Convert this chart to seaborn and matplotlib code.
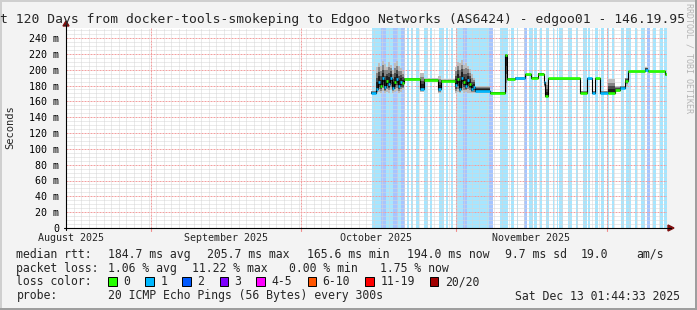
import matplotlib
matplotlib.use("Agg")
import matplotlib.pyplot as plt
import numpy as np
import pandas as pd
import seaborn as sns
from matplotlib.patches import Rectangle, Polygon
from matplotlib.lines import Line2D

# ---------------- data (x in days since 2025-08-01 00:00) ----------------
title = "t 120 Days from docker-tools-smokeping to Edgoo Networks (AS6424) - edgoo01 - 146.19.95"
x_start, x_end = 14.07, 134.07
month_label_days = [15, 46, 76, 107]
month_labels = ["August 2025", "September 2025", "October 2025", "November 2025"]
month_start_days = [31, 61, 92, 122]
y_ticks = [0, 20, 40, 60, 80, 100, 120, 140, 160, 180, 200, 220, 240]
y_tick_labels = ["0", "20 m", "40 m", "60 m", "80 m", "100 m", "120 m", "140 m",
                 "160 m", "180 m", "200 m", "220 m", "240 m"]

med_day = [74.97, 75.97, 76.37, 76.77, 77.17, 77.57, 77.97, 78.37, 78.77, 79.17, 79.57,
           79.97, 80.36, 80.76, 81.16, 81.56, 84.76, 85.56, 88.35, 88.95,
           91.75, 92.15, 92.55, 92.95, 93.35, 93.74, 94.14, 94.54, 94.94, 95.34,
           95.74, 98.73, 101.73, 102.13, 103.73, 105.72, 106.92, 108.32, 109.52, 109.72,
           110.32, 116.71, 118.10, 119.10, 119.70, 120.70, 122.30, 123.69, 124.69, 125.69,
           126.29, 129.68, 130.28, 133.68]
med_rtt = [171, 176, 185, 180, 189, 178, 186, 182, 190, 177, 184,
           188, 179, 185, 183, 188, 176, 187, 176, 186,
           181, 188, 176, 190, 184, 179, 187, 182, 175, 178,
           173, 171, 218, 188, 189, 194, 190, 195, 184, 167,
           189, 171, 189, 171, 189, 171, 171, 174, 177, 186,
           198, 200, 198, 194]
med_loss = [1, 1, 1, 0, 1, 1, 0, 1, 1, 1, 0,
            1, 1, 1, 0, 0, 1, 0, 1, 0,
            1, 0, 1, 1, 0, 1, 1, 0, 1, 1,
            1, 0, 0, 0, 1, 0, 0, 0, 1, 0,
            0, 0, 1, 1, 0, 1, 0, 0, 1, 0,
            0, 1, 0, 0]
smoke_hi = [173, 203, 209, 205, 211, 207, 204, 210, 206, 200, 208,
            211, 205, 202, 198, 190, 196, 189, 192, 188,
            204, 210, 208, 212, 206, 209, 205, 201, 195, 190,
            180, 172, 220, 190, 191, 195, 191, 196, 192, 185,
            190, 173, 190, 173, 190, 173, 188, 180, 180, 190,
            199, 203, 199, 196]
smoke_lo = [170, 171, 172, 171, 173, 171, 172, 171, 174, 171, 172,
            173, 171, 172, 174, 186, 172, 185, 171, 184,
            171, 172, 171, 173, 171, 172, 171, 171, 170, 170,
            171, 170, 172, 186, 187, 192, 188, 193, 178, 165,
            187, 170, 187, 170, 187, 170, 170, 172, 175, 180,
            196, 198, 196, 192]

loss_start = [75.07, 76.87, 77.87, 79.27, 80.27, 80.87, 82.07, 82.87, 83.87, 85.47, 86.67,
              88.47, 89.87, 90.87, 91.87, 93.27, 94.07, 98.47, 100.67, 102.87, 104.07, 105.47,
              106.47, 107.47, 108.67, 109.87, 111.27, 112.07, 112.47, 114.27, 115.87, 117.27,
              118.27, 119.67, 120.87, 122.07, 123.07, 124.87, 125.87, 127.67, 128.87, 130.07,
              131.27, 132.67, 133.47]
loss_end = [76.87, 77.87, 79.27, 80.27, 80.87, 81.67, 82.47, 83.27, 84.47, 86.27, 87.07,
            89.47, 90.27, 91.27, 93.27, 94.07, 98.47, 99.27, 102.27, 103.47, 104.27, 106.07,
            107.27, 108.07, 109.07, 110.47, 111.47, 112.27, 113.27, 115.07, 116.27, 118.07,
            118.67, 120.27, 121.47, 122.47, 123.47, 125.47, 126.87, 128.07, 129.67, 130.67,
            131.87, 133.27, 134.07]
loss_level = [1, 2, 1, 2, 1, 2, 1, 1, 1, 1, 1,
              1, 1, 1, 1, 2, 1, 2, 1, 1, 1, 2,
              1, 1, 1, 1, 1, 1, 1, 1, 1, 1,
              1, 1, 1, 1, 1, 1, 1, 1, 1, 2,
              1, 1, 1]

loss_colors = ["#26ff00", "#00b8ff", "#0059ff", "#7e00ff", "#ff00ff", "#ff5500", "#ff0000", "#a10000"]
loss_legend = ["0", "1", "2", "3", "4-5", "6-10", "11-19", "20/20"]

stats_rtt = ["184.7 ms avg", "205.7 ms max", "165.6 ms min", "194.0 ms now", "9.7 ms sd", "19.0", "am/s"]
stats_loss = ["1.06 % avg", "11.22 % max", "0.00 % min", "1.75 % now"]
probe_text = "20 ICMP Echo Pings (56 Bytes) every 300s"
stamp = "Sat Dec 13 01:44:33 2025"

# ---------------- layout ----------------
sns.set_style("white")
plt.rcParams["font.family"] = ["DejaVu Sans Mono"]
W, H = 697, 310
def fx(px): return px / W
def fy(py): return 1 - py / H

fig = plt.figure(figsize=(W / 100, H / 100), dpi=100, facecolor="#f3f3f3")
AX_L, AX_R, AX_T, AX_B = 66, 667, 28, 228
ax = fig.add_axes([fx(AX_L), fy(AX_B), (AX_R - AX_L) / W, (AX_B - AX_T) / H])
ax.set_facecolor("white")
ax.set_xlim(x_start, x_end)
ax.set_ylim(0, (AX_B - AX_T) / (190 / 240))
for s in ax.spines.values():
    s.set_visible(False)

# loss background stripes
for a, b, lv in zip(loss_start, loss_end, loss_level):
    ax.axvspan(a, b, color=loss_colors[lv], alpha=0.35, lw=0, zorder=1)

# grid
ymax = ax.get_ylim()[1]
for v in np.arange(5, ymax, 5):
    if v % 20 == 0:
        ax.axhline(v, color="#f2a0a0", lw=0.72, ls=(0, (2, 1)), zorder=2.5)
    else:
        ax.axhline(v, color="#d6d6d6", lw=0.72, ls=(0, (1, 1)), zorder=2.5)
d = x_start + 1.5
while d < x_end:
    ax.axvline(d, color="#d6d6d6", lw=0.72, ls=(0, (1, 1)), zorder=2.5)
    d += 1.5
for m in month_start_days:
    ax.axvline(m, color="#f2a0a0", lw=0.72, ls=(0, (2, 1)), zorder=2.6)

# smoke
df = pd.DataFrame({"day": med_day + [x_end], "rtt": med_rtt + [med_rtt[-1]],
                   "hi": smoke_hi + [smoke_hi[-1]], "lo": smoke_lo + [smoke_lo[-1]]})
med = df["rtt"].to_numpy(float)
hi = df["hi"].to_numpy(float)
lo = df["lo"].to_numpy(float)
for frac, col in [(1.0, "#bdbdbd"), (0.75, "#858585"), (0.5, "#4a4a4a"), (0.3, "#1e1e1e")]:
    ax.fill_between(df["day"], med - (med - lo) * frac, med + (hi - med) * frac,
                    step="post", color=col, lw=0, zorder=3)

# median line
sns.lineplot(data=df, x="day", y="rtt", drawstyle="steps-post", color="black", lw=0.8,
             estimator=None, sort=False, ax=ax, legend=False, zorder=4)
for i in range(len(med_day)):
    e = med_day[i + 1] if i + 1 < len(med_day) else x_end
    ax.hlines(med_rtt[i], med_day[i], e, color=loss_colors[med_loss[i]], lw=1.9, zorder=5)

# ticks
ax.set_yticks(y_ticks, labels=y_tick_labels)
ax.tick_params(axis="y", length=4, direction="inout", width=0.8, pad=3, labelsize=7.2, colors="black")
ax.set_xticks(month_label_days, labels=month_labels)
ax.tick_params(axis="x", length=0, pad=3.5, labelsize=7.2)
ax.set_xlabel("")
ax.set_ylabel("")
for m in month_start_days:
    ax.plot([m, m], [-4, 0], color="#f08c8c", lw=0.8, clip_on=False, zorder=6)

# axis lines with arrows
fig.add_artist(Line2D([fx(AX_L), fx(AX_L)], [fy(AX_B + 2), fy(AX_T - 4)], color="black", lw=0.8))
fig.add_artist(Line2D([fx(AX_L - 2), fx(AX_R + 4)], [fy(AX_B), fy(AX_B)], color="black", lw=0.8))
fig.add_artist(Polygon([[fx(AX_L - 3), fy(AX_T - 2)], [fx(AX_L + 3), fy(AX_T - 2)], [fx(AX_L), fy(AX_T - 7)]],
                       closed=True, color="#7f1010", transform=fig.transFigure))
fig.add_artist(Polygon([[fx(AX_R + 1), fy(AX_B - 3)], [fx(AX_R + 1), fy(AX_B + 3)], [fx(AX_R + 7), fy(AX_B)]],
                       closed=True, color="#7f1010", transform=fig.transFigure))

# titles
fig.text(fx(0.5), fy(22.5), title, fontsize=9.35, va="baseline", ha="left")
fig.text(fx(10), fy(127), "Seconds", rotation=90, va="center", ha="center", fontsize=7.5)
fig.text(fx(688.5), fy(3), "RRDTOOL / TOBI OETIKER", rotation=-90, va="top", ha="center",
         fontsize=6.0, color="#b4b4b4")

# legend rows
LS = 8.3
r1, r2, r3, r4 = 254.3, 268.3, 281.7, 296
fig.text(fx(16.4), fy(r1), "median rtt:", fontsize=LS, va="center")
for s, x in zip(stats_rtt, [107.6, 207, 306.7, 407, 504.5, 580.5, 636]):
    fig.text(fx(x), fy(r1), s, fontsize=LS, va="center")
fig.text(fx(16.4), fy(r2), "packet loss:", fontsize=LS, va="center")
for s, x in zip(stats_loss, [107.6, 192, 289, 380]):
    fig.text(fx(x), fy(r2), s, fontsize=LS, va="center")
fig.text(fx(16.4), fy(r3), "loss color:", fontsize=LS, va="center")
sw_x = [108, 145.3, 182, 219.6, 256.4, 307.6, 365.3, 429.8]
for c, lab, x in zip(loss_colors, loss_legend, sw_x):
    fig.add_artist(Rectangle((fx(x), fy(r3 + 4.5)), 8.5 / W, 9 / H, facecolor=c,
                             edgecolor="black", lw=0.7, transform=fig.transFigure))
    fig.text(fx(x + 15), fy(r3), lab, fontsize=LS, va="center")
fig.text(fx(16.4), fy(r4), "probe:", fontsize=LS, va="center")
fig.text(fx(107.6), fy(r4), probe_text, fontsize=LS, va="center")
fig.text(fx(680), fy(r4), stamp, fontsize=LS, va="center", ha="right")

# frame shading
fig.add_artist(Rectangle((0, 0), 2 / W, 1, color="#cfcfcf", transform=fig.transFigure, lw=0))
fig.add_artist(Rectangle((0, 1 - 2 / H), 1, 2 / H, color="#cfcfcf", transform=fig.transFigure, lw=0))
fig.add_artist(Rectangle((1 - 2 / W, 0), 2 / W, 1, color="#9e9e9e", transform=fig.transFigure, lw=0))
fig.add_artist(Rectangle((0, 0), 1, 2 / H, color="#9e9e9e", transform=fig.transFigure, lw=0))

fig.savefig("out.png", dpi=100, facecolor=fig.get_facecolor())
